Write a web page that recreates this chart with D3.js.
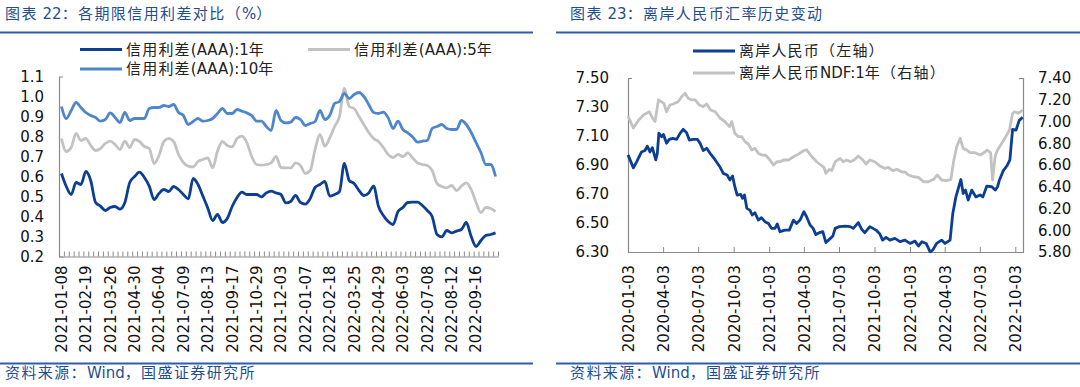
<!DOCTYPE html>
<html><head><meta charset="utf-8">
<script src="https://cdn.jsdelivr.net/npm/d3@7"></script>
<style>
body{margin:0;background:#fff;}
svg text{font-family:"DejaVu Sans","Noto Sans CJK SC",sans-serif;}
</style></head><body>
<svg id="c" width="1080" height="387"></svg>
<script>
// ---------- Left chart data: 信用利差 (weekly) ----------
const spreadDates = [
"2021-01-08","2021-01-15","2021-01-22","2021-01-29","2021-02-05","2021-02-19","2021-02-26","2021-03-05","2021-03-12","2021-03-19",
"2021-03-26","2021-04-02","2021-04-09","2021-04-16","2021-04-23","2021-04-30","2021-05-07","2021-05-14","2021-05-21","2021-05-28",
"2021-06-04","2021-06-11","2021-06-18","2021-06-25","2021-07-02","2021-07-09","2021-07-16","2021-07-23","2021-07-30","2021-08-06",
"2021-08-13","2021-08-20","2021-08-27","2021-09-03","2021-09-10","2021-09-17","2021-09-24","2021-10-08","2021-10-15","2021-10-22",
"2021-10-29","2021-11-05","2021-11-12","2021-11-19","2021-11-26","2021-12-03","2021-12-10","2021-12-17","2021-12-24","2021-12-31",
"2022-01-07","2022-01-14","2022-01-21","2022-01-28","2022-02-11","2022-02-18","2022-02-25","2022-03-04","2022-03-11","2022-03-18",
"2022-03-25","2022-04-01","2022-04-08","2022-04-15","2022-04-22","2022-04-29","2022-05-06","2022-05-13","2022-05-20","2022-05-27",
"2022-06-03","2022-06-10","2022-06-17","2022-06-24","2022-07-01","2022-07-08","2022-07-15","2022-07-22","2022-07-29","2022-08-05",
"2022-08-12","2022-08-19","2022-08-26","2022-09-02","2022-09-09","2022-09-16","2022-09-23","2022-09-30","2022-10-14","2022-10-21"];
const spread1y = [
0.615,0.55,0.51,0.57,0.56,0.625,0.58,0.47,0.452,0.43,
0.445,0.45,0.437,0.47,0.57,0.60,0.622,0.595,0.552,0.485,
0.515,0.535,0.525,0.55,0.535,0.51,0.488,0.59,0.56,0.502,
0.443,0.38,0.41,0.37,0.39,0.45,0.495,0.522,0.51,0.51,
0.51,0.498,0.518,0.527,0.518,0.51,0.468,0.475,0.505,0.47,
0.462,0.49,0.545,0.56,0.575,0.502,0.51,0.525,0.665,0.58,
0.565,0.53,0.505,0.518,0.552,0.45,0.405,0.375,0.36,0.425,
0.445,0.47,0.472,0.472,0.455,0.43,0.40,0.31,0.298,0.33,
0.318,0.327,0.335,0.37,0.30,0.25,0.28,0.305,0.31,0.318];
const spread5y = [
0.79,0.725,0.745,0.815,0.78,0.79,0.755,0.73,0.74,0.765,
0.777,0.76,0.735,0.777,0.745,0.785,0.775,0.75,0.74,0.665,
0.705,0.775,0.79,0.775,0.71,0.67,0.652,0.648,0.675,0.685,
0.693,0.643,0.727,0.775,0.755,0.748,0.79,0.802,0.77,0.70,
0.66,0.657,0.66,0.668,0.70,0.645,0.643,0.643,0.668,0.655,
0.615,0.63,0.735,0.81,0.752,0.793,0.85,0.90,1.04,0.95,
0.94,0.90,0.86,0.82,0.79,0.775,0.745,0.71,0.695,0.71,
0.70,0.718,0.693,0.668,0.66,0.655,0.63,0.565,0.55,0.543,
0.555,0.53,0.552,0.568,0.535,0.47,0.42,0.445,0.44,0.425];
const spread10y = [
0.95,0.89,0.93,0.97,0.945,0.92,0.905,0.895,0.877,0.885,
0.918,0.895,0.87,0.92,0.88,0.89,0.89,0.89,0.94,0.945,
0.945,0.955,0.95,0.96,0.92,0.905,0.86,0.875,0.89,0.877,
0.88,0.89,0.915,0.94,0.915,0.915,0.935,0.927,0.918,0.905,
0.877,0.877,0.85,0.83,0.93,0.88,0.868,0.872,0.895,0.885,
0.855,0.865,0.875,0.93,0.885,0.905,0.965,0.975,1.015,0.99,
1.01,1.02,1.0,0.96,0.92,0.915,0.922,0.893,0.84,0.877,
0.835,0.818,0.798,0.772,0.777,0.78,0.84,0.85,0.86,0.84,
0.835,0.835,0.88,0.86,0.82,0.77,0.72,0.66,0.66,0.60];
const spreadTickLabels = ["2021-01-08","2021-02-19","2021-03-26","2021-04-30","2021-06-04","2021-07-09","2021-08-13","2021-09-17","2021-10-29","2021-12-03","2022-01-07","2022-02-18","2022-03-25","2022-04-29","2022-06-03","2022-07-08","2022-08-12","2022-09-16"];
const spreadYTicks = [0.2,0.3,0.4,0.5,0.6,0.7,0.8,0.9,1.0,1.1];
const spreadSeriesNames = ["信用利差(AAA):1年","信用利差(AAA):5年","信用利差(AAA):10年"];

// ---------- Right chart data: 离岸人民币 ----------
const cnhDates = ["2020-01-03","2020-01-17","2020-01-25","2020-02-07","2020-02-16","2020-02-22","2020-02-29","2020-03-06","2020-03-15","2020-03-19",
"2020-03-23","2020-03-30","2020-04-04","2020-04-12","2020-04-19","2020-04-28","2020-05-08","2020-05-17","2020-05-25","2020-06-03",
"2020-06-10","2020-06-20","2020-07-01","2020-07-08","2020-07-16","2020-07-25","2020-08-03","2020-08-16","2020-08-29","2020-09-06",
"2020-09-16","2020-09-23","2020-09-30","2020-10-06","2020-10-12","2020-10-21","2020-10-26","2020-10-31","2020-11-06","2020-11-14",
"2020-11-20","2020-11-27","2020-12-06","2020-12-14","2020-12-23","2021-01-01","2021-01-09","2021-01-18","2021-01-24","2021-01-31",
"2021-02-13","2021-02-24","2021-03-07","2021-03-15","2021-03-24","2021-04-03","2021-04-10","2021-04-19","2021-04-27","2021-05-04",
"2021-05-13","2021-05-22","2021-05-30","2021-06-08","2021-06-17","2021-06-23","2021-07-04","2021-07-19","2021-08-01","2021-08-09",
"2021-08-22","2021-08-31","2021-09-08","2021-09-21","2021-10-07","2021-10-17","2021-10-24","2021-11-02","2021-11-12","2021-11-25",
"2021-12-08","2021-12-21","2022-01-03","2022-01-16","2022-01-25","2022-02-03","2022-02-14","2022-02-24","2022-03-03","2022-03-13",
"2022-03-26","2022-04-04","2022-04-17","2022-04-24","2022-05-02","2022-05-15","2022-05-21","2022-05-27","2022-06-03","2022-06-12",
"2022-06-23","2022-07-04","2022-07-11","2022-07-21","2022-08-03","2022-08-12","2022-08-18","2022-08-23","2022-09-02","2022-09-11",
"2022-09-19","2022-09-26","2022-10-05","2022-10-13","2022-10-22"];
const cnhValues = [6.97,6.88,6.92,6.99,7.00,7.03,6.99,7.02,6.935,6.98,
7.12,7.095,7.11,7.05,7.077,7.084,7.077,7.118,7.146,7.123,
7.072,7.077,7.077,7.049,7.0,7.015,6.98,6.935,6.884,6.842,
6.831,6.797,6.824,6.75,6.693,6.698,6.67,6.693,6.601,6.589,
6.555,6.571,6.52,6.537,6.509,6.497,6.463,6.463,6.493,6.44,
6.451,6.451,6.52,6.497,6.52,6.578,6.543,6.486,6.463,6.42,
6.433,6.44,6.365,6.387,6.41,6.463,6.475,6.479,6.475,6.463,
6.503,6.456,6.433,6.475,6.451,6.424,6.382,6.401,6.382,6.394,
6.371,6.382,6.359,6.375,6.341,6.371,6.359,6.302,6.313,6.359,
6.382,6.359,6.382,6.566,6.68,6.80,6.704,6.727,6.658,6.727,
6.68,6.693,6.68,6.754,6.75,6.727,6.75,6.797,6.861,6.893,
6.935,7.146,7.141,7.206,7.229];
const ndfDates = ["2020-01-03","2020-01-17","2020-01-30","2020-02-12","2020-02-20","2020-02-27","2020-03-07","2020-03-13","2020-03-22","2020-03-30",
"2020-04-05","2020-04-12","2020-04-21","2020-04-29","2020-05-12","2020-05-21","2020-05-30","2020-06-07","2020-06-16","2020-06-25",
"2020-07-06","2020-07-16","2020-07-25","2020-08-04","2020-08-16","2020-08-29","2020-09-10","2020-09-22","2020-09-28","2020-10-06",
"2020-10-15","2020-10-24","2020-11-01","2020-11-10","2020-11-19","2020-11-27","2020-12-06","2020-12-15","2020-12-25","2021-01-05",
"2021-01-14","2021-01-23","2021-01-31","2021-02-09","2021-02-22","2021-03-07","2021-03-20","2021-04-02","2021-04-10","2021-04-23",
"2021-05-06","2021-05-17","2021-05-25","2021-05-30","2021-06-08","2021-06-14","2021-06-23","2021-07-06","2021-07-14","2021-07-23",
"2021-08-01","2021-08-11","2021-08-22","2021-09-03","2021-09-11","2021-09-21","2021-10-04","2021-10-17","2021-10-30","2021-11-08",
"2021-11-19","2021-11-30","2021-12-12","2021-12-21","2021-12-30","2022-01-12","2022-01-25","2022-02-07","2022-02-19","2022-03-05",
"2022-03-15","2022-03-26","2022-04-08","2022-04-19","2022-04-26","2022-05-04","2022-05-13","2022-05-21","2022-05-30","2022-06-08",
"2022-06-21","2022-07-04","2022-07-14","2022-07-22","2022-07-31","2022-08-05","2022-08-12","2022-08-18","2022-08-29","2022-09-06",
"2022-09-18","2022-09-26","2022-10-02","2022-10-11","2022-10-22"];
const ndfValues = [7.05,6.94,7.01,7.06,7.075,7.09,7.03,7.0,7.198,7.18,
7.167,7.09,7.152,7.161,7.182,7.228,7.259,7.213,7.198,7.198,
7.152,7.137,7.161,7.106,7.09,7.03,7.0,6.953,6.999,6.891,
6.861,6.86,6.815,6.793,6.738,6.753,6.707,6.692,6.69,6.646,
6.60,6.63,6.63,6.646,6.646,6.676,6.70,6.731,6.74,6.68,
6.63,6.60,6.578,6.523,6.56,6.548,6.63,6.661,6.63,6.646,
6.63,6.646,6.683,6.646,6.609,6.646,6.63,6.59,6.569,6.578,
6.548,6.56,6.538,6.535,6.508,6.492,6.486,6.446,6.446,6.468,
6.508,6.462,6.456,6.468,6.63,6.768,6.845,6.753,6.738,6.713,
6.713,6.692,6.713,6.738,6.713,6.462,6.683,6.738,6.80,6.845,
6.922,7.075,7.09,7.075,7.106];
const fxTickLabels = ["2020-01-03","2020-04-03","2020-07-03","2020-10-03","2021-01-03","2021-04-03","2021-07-03","2021-10-03","2022-01-03","2022-04-03","2022-07-03","2022-10-03"];
const fxDomain = ["2020-01-03","2022-10-23"];
const cnhYTicks = [6.30,6.50,6.70,6.90,7.10,7.30,7.50];
const ndfYTicks = [5.80,6.00,6.20,6.40,6.60,6.80,7.00,7.20,7.40];
const fxSeriesNames = ["离岸人民币（左轴）","离岸人民币NDF:1年（右轴）"];

// ---------- styles ----------
const titleColor = "#1f4e8f", ruleColor = "#2f5ea8", axisColor = "#8a8a8a";
const cDark = "#0c3f94", cMid = "#4d86cc", cGray = "#c2c2c2";
const lw = 2.8;

const svg = d3.select("#c");
const parse = d3.timeParse("%Y-%m-%d");
const fmtDate = d3.timeFormat("%Y-%m-%d");

// text with letter-spacing applied only to CJK runs
function spacedText(sel, str, cjkSpacing){
  const runs = str.match(/[\u0000-\u007f]+|[^\u0000-\u007f]+/g) || [];
  runs.forEach(r => {
    const ascii = /^[\u0000-\u007f]+$/.test(r);
    sel.append("tspan").attr("letter-spacing", ascii ? 0 : cjkSpacing).text(r);
  });
}

function header(x0, x1, tx, title, source){
  const t = svg.append("text").attr("x", tx).attr("y", 14).attr("dy","0.35em")
    .attr("fill", titleColor).attr("font-size", 15);
  spacedText(t, title, 1.4);
  svg.append("line").attr("x1", x0).attr("x2", x1).attr("y1", 32.5).attr("y2", 32.5)
    .attr("stroke", ruleColor).attr("stroke-width", 2);
  svg.append("line").attr("x1", x0).attr("x2", x1).attr("y1", 363.5).attr("y2", 363.5)
    .attr("stroke", ruleColor).attr("stroke-width", 2);
  const s = svg.append("text").attr("x", tx).attr("y", 373).attr("dy","0.35em")
    .attr("fill", titleColor).attr("font-size", 15);
  spacedText(s, source, 1.4);
}
header(0, 533, 5, "图表 22：各期限信用利差对比（%）", "资料来源：Wind，国盛证券研究所");
header(556, 1080, 570, "图表 23：离岸人民币汇率历史变动", "资料来源：Wind，国盛证券研究所");

function legendItem(x, y, color, label){
  svg.append("line").attr("x1", x).attr("x2", x + 42).attr("y1", y).attr("y2", y)
    .attr("stroke", color).attr("stroke-width", 3);
  const t = svg.append("text").attr("x", x + 46).attr("y", y).attr("dy", "0.35em")
    .attr("font-size", 15).attr("fill", "#222");
  spacedText(t, label, 1.2);
}

function styleAxis(g){
  g.selectAll("path.domain").attr("stroke", axisColor).attr("stroke-width", 1.2);
  g.selectAll(".tick line").attr("stroke", axisColor);
  g.selectAll("text").attr("fill", "#111").attr("font-size", 15)
    .attr("font-family", "\"DejaVu Sans\",sans-serif");
}

// ---------- Left chart ----------
{
  const X0 = 59, X1 = 498, Y0 = 256.5, Y1 = 76.5;
  const xBand = d3.scaleBand().domain(spreadDates).range([X0, X1]).padding(0);
  const xIdx = d3.scaleLinear().domain([0, spreadDates.length]).range([X0, X1]);
  const y = d3.scaleLinear().domain([0.2, 1.1]).range([Y0, Y1]);

  const gy = svg.append("g").attr("transform", `translate(${X0},0)`)
    .call(d3.axisLeft(y).tickValues(spreadYTicks).tickSizeInner(0).tickSizeOuter(-4)
      .tickPadding(15).tickFormat(d3.format(".1f")));
  styleAxis(gy);

  const gx = svg.append("g").attr("transform", `translate(0,${Y0})`)
    .call(d3.axisBottom(xIdx).tickValues(d3.range(spreadDates.length + 1))
      .tickSizeInner(-5).tickSizeOuter(0).tickFormat(""));
  styleAxis(gx);

  const gl = svg.append("g").attr("transform", `translate(0,${Y0})`)
    .call(d3.axisBottom(xBand).tickValues(spreadTickLabels).tickSize(0).tickPadding(0));
  gl.select("path.domain").remove();
  styleAxis(gl);
  gl.selectAll("text").attr("transform", "rotate(-90)").attr("text-anchor", "end")
    .attr("x", -9).attr("y", 0).attr("dy", "0.36em");

  const cx = d => xBand(d) + xBand.bandwidth() / 2;
  const series = [[spread1y, cDark], [spread5y, cGray], [spread10y, cMid]];
  series.forEach(([vals, col]) => {
    const line = d3.line().x((d, i) => cx(spreadDates[i])).y(d => y(d)).curve(d3.curveMonotoneX);
    svg.append("path").datum(vals).attr("d", line).attr("fill", "none")
      .attr("stroke", col).attr("stroke-width", lw).attr("stroke-linejoin", "round");
  });

  legendItem(80, 49.5, cDark, spreadSeriesNames[0]);
  legendItem(308, 49.5, cGray, spreadSeriesNames[1]);
  legendItem(80, 69, cMid, spreadSeriesNames[2]);
}

// ---------- Right chart ----------
{
  const X0 = 628, X1 = 1023, Y0 = 252, Y1 = 78;
  const x = d3.scaleTime().domain(fxDomain.map(parse)).range([X0, X1]);
  const yL = d3.scaleLinear().domain([6.3, 7.5]).range([Y0, Y1]);
  const yR = d3.scaleLinear().domain([5.8, 7.4]).range([Y0, Y1]);

  const gyl = svg.append("g").attr("transform", `translate(${X0},0)`)
    .call(d3.axisLeft(yL).tickValues(cnhYTicks).tickSizeInner(0).tickSizeOuter(-4)
      .tickPadding(19).tickFormat(d3.format(".2f")));
  styleAxis(gyl);
  const gyr = svg.append("g").attr("transform", `translate(${X1},0)`)
    .call(d3.axisRight(yR).tickValues(ndfYTicks).tickSizeInner(0).tickSizeOuter(-4)
      .tickPadding(15).tickFormat(d3.format(".2f")));
  styleAxis(gyr);

  const gx = svg.append("g").attr("transform", `translate(0,${Y0})`)
    .call(d3.axisBottom(x).tickValues(fxTickLabels.map(parse)).tickSizeInner(-5).tickSizeOuter(0)
      .tickFormat(fmtDate));
  styleAxis(gx);
  gx.selectAll("text").attr("transform", "rotate(-90)").attr("text-anchor", "end")
    .attr("x", -13).attr("y", 0).attr("dy", "0.36em");

  const cnhLine = d3.line().x((d, i) => x(parse(cnhDates[i]))).y(d => yL(d));
  svg.append("path").datum(cnhValues).attr("d", cnhLine).attr("fill", "none")
    .attr("stroke", cDark).attr("stroke-width", lw).attr("stroke-linejoin", "round");
  const ndfLine = d3.line().x((d, i) => x(parse(ndfDates[i]))).y(d => yR(d));
  svg.append("path").datum(ndfValues).attr("d", ndfLine).attr("fill", "none")
    .attr("stroke", cGray).attr("stroke-width", lw).attr("stroke-linejoin", "round");

  legendItem(693, 51, cDark, fxSeriesNames[0]);
  legendItem(693, 73, cGray, fxSeriesNames[1]);
}
</script>
</body></html>
